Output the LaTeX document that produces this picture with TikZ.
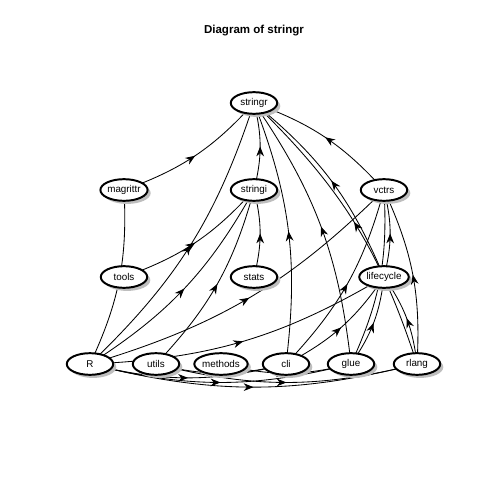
\documentclass[tikz,border=0pt]{standalone}
\usepackage{fontspec}
\setmainfont{Liberation Sans}
\usetikzlibrary{arrows.meta, shapes.geometric, shadows, decorations.markings, backgrounds}
\definecolor{cshadow}{HTML}{BEBEBE}
\tikzset{
  every picture/.style={x=0.025cm, y=-0.025cm, line width=0.6pt},
  pkg/.style={ellipse, draw=black, fill=white, line width=1.4pt, minimum width=33pt, minimum height=15.4pt, inner sep=0pt,
    font=\fontsize{7}{8}\selectfont, drop shadow={shadow xshift=2.2pt, shadow yshift=-2.2pt, fill=cshadow, opacity=1}},
  dep/.style={line width=0.6pt, postaction={decorate},
    decoration={markings, mark=at position 0.5 with {\arrow{Stealth[length=7pt, width=5.5pt]}}}},
  title/.style={font=\bfseries\fontsize{8.2}{10}\selectfont},
}

\begin{document}
\begin{tikzpicture}
  \useasboundingbox (0,0) rectangle (480,480);
  \node[title] (ttl) at (254,31) {Diagram of stringr};
  % rows of packages
  \node[pkg] (stringr) at (254,103) {stringr};
  \node[pkg] (magrittr) at (124,190) {magrittr};
  \node[pkg] (stringi) at (254,190) {stringi};
  \node[pkg] (vctrs) at (384,190) {vctrs};
  \node[pkg] (tools) at (124,277) {tools};
  \node[pkg] (stats) at (254,277) {stats};
  \node[pkg] (lifecycle) at (384,277) {lifecycle};
  \node[pkg] (R) at (90,364) {R};
  \node[pkg] (utils) at (156,364) {utils};
  \node[pkg] (methods) at (221,364) {methods};
  \node[pkg] (cli) at (286,364) {cli};
  \node[pkg] (glue) at (351,364) {glue};
  \node[pkg] (rlang) at (417,364) {rlang};
  % dependencies, drawn behind the boxes
  \begin{scope}[on background layer]
    \fill[white] (0,0) rectangle (480,480);
    \foreach \a/\b in {magrittr/stringr, stringi/stringr, vctrs/stringr, lifecycle/stringr,
      cli/stringr, glue/stringr, rlang/stringr, R/stringr,
      tools/stringi, stats/stringi, utils/stringi, R/stringi, R/magrittr,
      cli/vctrs, glue/vctrs, lifecycle/vctrs, rlang/vctrs, R/vctrs,
      cli/lifecycle, glue/lifecycle, rlang/lifecycle, R/lifecycle,
      utils/cli, R/cli, methods/glue, R/glue, utils/rlang, R/rlang}
      \draw[dep] (\a.center) to[bend right=14] (\b.center);
  \end{scope}
\end{tikzpicture}
\end{document}
